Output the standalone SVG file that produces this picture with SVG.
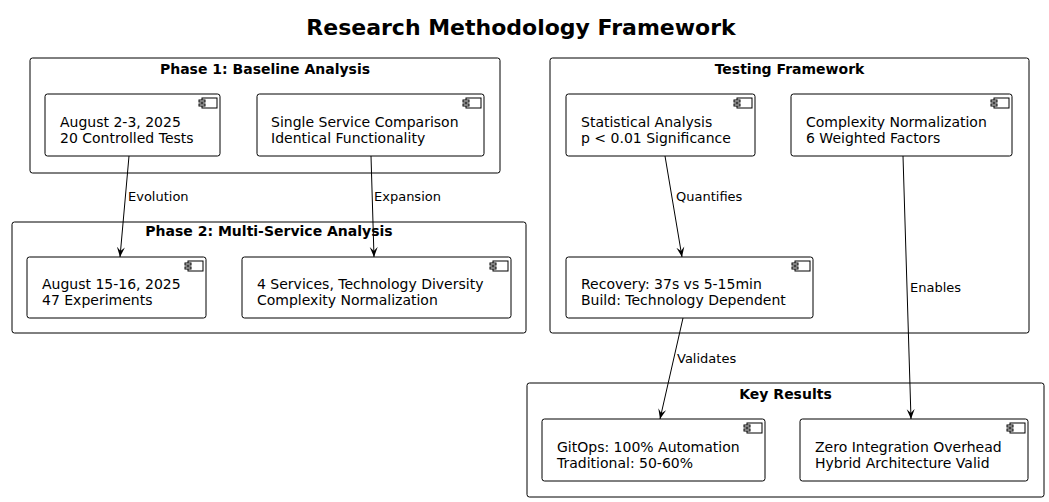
<svg xmlns="http://www.w3.org/2000/svg" width="1049" height="502" viewBox="0 0 1049 502">
<defs>
<style>
text{font-family:"DejaVu Sans",sans-serif;fill:#000}
.title{font-size:22px;font-weight:bold}
.pkg{fill:#fff;stroke:#000;stroke-width:1}
.pt{font-size:14px;font-weight:bold}
.node{fill:#fff;stroke:#000;stroke-width:1}
.nt{font-size:14px}
.lbl{font-size:13px}
.ic{fill:#fff;stroke:#000;stroke-width:1}
.edge{fill:none;stroke:#000;stroke-width:1}
</style>
<g id="icon">
<rect class="ic" x="0" y="0" width="15" height="10"/>
<rect class="ic" x="-3" y="2" width="6" height="2"/>
<rect class="ic" x="-3" y="6" width="6" height="2"/>
</g>
<marker id="arr" viewBox="0 0 10 10" refX="10" refY="5" markerWidth="10" markerHeight="10" markerUnits="userSpaceOnUse" orient="auto">
<path d="M0,1 L10,5 L0,9 L4,5 Z" fill="#000"/>
</marker>
</defs>
<rect width="1049" height="502" fill="#fff"/>
<text class="title" x="521" y="35" text-anchor="middle">Research Methodology Framework</text>

<g id="phase1">
<rect class="pkg" x="30" y="58" width="470" height="115" rx="2.5"/>
<text class="pt" x="265" y="74" text-anchor="middle">Phase 1: Baseline Analysis</text>
</g>
<g id="phase2">
<rect class="pkg" x="12" y="222" width="514" height="111" rx="2.5"/>
<text class="pt" x="269" y="236" text-anchor="middle">Phase 2: Multi-Service Analysis</text>
</g>
<g id="testing">
<rect class="pkg" x="550" y="58" width="479" height="275" rx="2.5"/>
<text class="pt" x="789.5" y="74" text-anchor="middle">Testing Framework</text>
</g>
<g id="results">
<rect class="pkg" x="527" y="383" width="517" height="114" rx="2.5"/>
<text class="pt" x="785.5" y="399" text-anchor="middle">Key Results</text>
</g>

<g id="n_baseline_dates">
<rect class="node" x="45" y="94" width="175" height="62" rx="2.5"/>
<use href="#icon" x="202" y="98"/>
<text class="nt" x="60" y="127">August 2-3, 2025</text>
<text class="nt" x="60" y="143">20 Controlled Tests</text>
</g>
<g id="n_single_service">
<rect class="node" x="257" y="94" width="227" height="62" rx="2.5"/>
<use href="#icon" x="466" y="98"/>
<text class="nt" x="271" y="127">Single Service Comparison</text>
<text class="nt" x="271" y="143">Identical Functionality</text>
</g>
<g id="n_multi_dates">
<rect class="node" x="27" y="257" width="179" height="61" rx="2.5"/>
<use href="#icon" x="188" y="261"/>
<text class="nt" x="42" y="289">August 15-16, 2025</text>
<text class="nt" x="42" y="305">47 Experiments</text>
</g>
<g id="n_four_services">
<rect class="node" x="242" y="257" width="269" height="61" rx="2.5"/>
<use href="#icon" x="493" y="261"/>
<text class="nt" x="257" y="289">4 Services, Technology Diversity</text>
<text class="nt" x="257" y="305">Complexity Normalization</text>
</g>
<g id="n_statistical">
<rect class="node" x="566" y="94" width="189" height="62" rx="2.5"/>
<use href="#icon" x="737" y="98"/>
<text class="nt" x="581" y="127">Statistical Analysis</text>
<text class="nt" x="581" y="143">p &lt; 0.01 Significance</text>
</g>
<g id="n_complexity">
<rect class="node" x="791" y="94" width="221" height="62" rx="2.5"/>
<use href="#icon" x="994" y="98"/>
<text class="nt" x="806" y="127">Complexity Normalization</text>
<text class="nt" x="806" y="143">6 Weighted Factors</text>
</g>
<g id="n_recovery">
<rect class="node" x="566" y="257" width="247" height="61" rx="2.5"/>
<use href="#icon" x="795" y="261"/>
<text class="nt" x="581" y="289">Recovery: 37s vs 5-15min</text>
<text class="nt" x="581" y="305">Build: Technology Dependent</text>
</g>
<g id="n_gitops">
<rect class="node" x="542" y="419" width="223" height="62" rx="2.5"/>
<use href="#icon" x="747" y="423"/>
<text class="nt" x="557" y="452">GitOps: 100% Automation</text>
<text class="nt" x="557" y="468">Traditional: 50-60%</text>
</g>
<g id="n_zero">
<rect class="node" x="800" y="419" width="228" height="62" rx="2.5"/>
<use href="#icon" x="1010" y="423"/>
<text class="nt" x="815" y="452">Zero Integration Overhead</text>
<text class="nt" x="815" y="468">Hybrid Architecture Valid</text>
</g>

<g id="connectors">
<path class="edge" d="M129,156 L120,257" marker-end="url(#arr)"/>
<text class="lbl" x="128" y="201">Evolution</text>
<path class="edge" d="M371,156 L374,257" marker-end="url(#arr)"/>
<text class="lbl" x="374" y="201">Expansion</text>
<path class="edge" d="M665,156 L682,257" marker-end="url(#arr)"/>
<text class="lbl" x="676" y="201">Quantifies</text>
<path class="edge" d="M903,156 L911,419" marker-end="url(#arr)"/>
<text class="lbl" x="910" y="292">Enables</text>
<path class="edge" d="M683,318 L660,419" marker-end="url(#arr)"/>
<text class="lbl" x="677" y="363">Validates</text>
</g>
</svg>
